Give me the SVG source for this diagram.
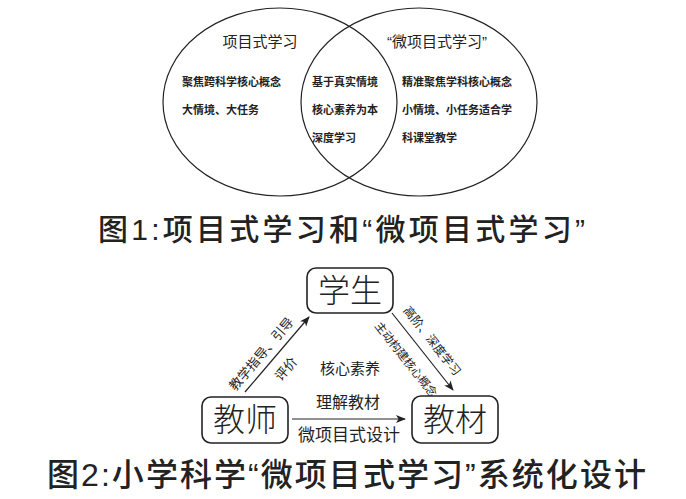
<svg xmlns="http://www.w3.org/2000/svg" width="686" height="499" viewBox="0 0 686 499">
<style>
text{font-family:"Liberation Sans","Noto Sans CJK SC",sans-serif;fill:#222}
.v{font-size:11px;font-weight:600}
.vt{font-size:15px;text-anchor:middle}
.cap{font-size:30px;font-weight:500}
.box{fill:#fff;stroke:#222;stroke-width:1.6}
.bl{font-size:32px;font-weight:300;text-anchor:middle}
.ln{fill:none;stroke:#222;stroke-width:1.2}
.lab{font-size:13px;text-anchor:middle}
.ell{fill:none;stroke:#222;stroke-width:1.2}
</style>
<defs>
<marker id="ah" markerWidth="10" markerHeight="8" refX="9" refY="4" orient="auto" markerUnits="userSpaceOnUse">
<path d="M0,0 L10,4 L0,8 L2.5,4 Z" fill="#222"/>
</marker>
</defs>
<rect width="686" height="499" fill="#fff"/>

<g id="venn-left">
<ellipse class="ell" cx="280" cy="102" rx="117" ry="94"/>
<text class="vt" x="260" y="47">项目式学习</text>
<text class="v" x="182" y="86">聚焦跨科学核心概念</text>
<text class="v" x="182" y="114">大情境、大任务</text>
</g>
<g id="venn-right">
<ellipse class="ell" cx="419" cy="102" rx="118" ry="94"/>
<text class="vt" x="437" y="47">“微项目式学习”</text>
<text class="v" x="402" y="86">精准聚焦学科核心概念</text>
<text class="v" x="402" y="114">小情境、小任务适合学</text>
<text class="v" x="402" y="142">科课堂教学</text>
</g>
<g id="venn-overlap">
<text class="v" x="312" y="86">基于真实情境</text>
<text class="v" x="312" y="114">核心素养为本</text>
<text class="v" x="312" y="142">深度学习</text>
</g>
<text id="caption1" class="cap" x="98" y="240" textLength="487" lengthAdjust="spacing">图1:项目式学习和“微项目式学习”</text>

<g id="connectors">
<line class="ln" x1="245" y1="392" x2="309" y2="317" marker-end="url(#ah)"/>
<line class="ln" x1="392" y1="313" x2="453" y2="390" marker-end="url(#ah)"/>
<line class="ln" x1="292" y1="419" x2="405" y2="419" marker-end="url(#ah)"/>
<text class="lab" transform="translate(261.5,354) rotate(-49.5)" y="4.5">教学指导、引导</text>
<text class="lab" transform="translate(286,369) rotate(-49.5)" y="4.5">评价</text>
<text class="lab" style="font-size:12px" transform="translate(432,341) rotate(51.6)" y="4">高阶、深度学习</text>
<text class="lab" style="font-size:11.5px" transform="translate(406,359.5) rotate(51.6)" y="4">主动构建核心概念</text>
<text x="348" y="408" style="font-size:16px;text-anchor:middle">理解教材</text>
<text x="349" y="441" style="font-size:17px;text-anchor:middle">微项目式设计</text>
</g>
<text id="center-label" x="350" y="374" style="font-size:15px;text-anchor:middle">核心素养</text>

<g id="node-student">
<rect class="box" x="307" y="268" width="86" height="45" rx="9"/>
<text class="bl" x="350" y="302">学生</text>
</g>
<g id="node-teacher">
<rect class="box" x="202" y="397" width="86" height="46" rx="9"/>
<text class="bl" x="245" y="431">教师</text>
</g>
<g id="node-material">
<rect class="box" x="412" y="396" width="86" height="47" rx="9"/>
<text class="bl" x="455" y="431">教材</text>
</g>
<text id="caption2" class="cap" style="font-size:32px" x="47" y="486" textLength="599" lengthAdjust="spacing">图2:小学科学“微项目式学习”系统化设计</text>
</svg>
